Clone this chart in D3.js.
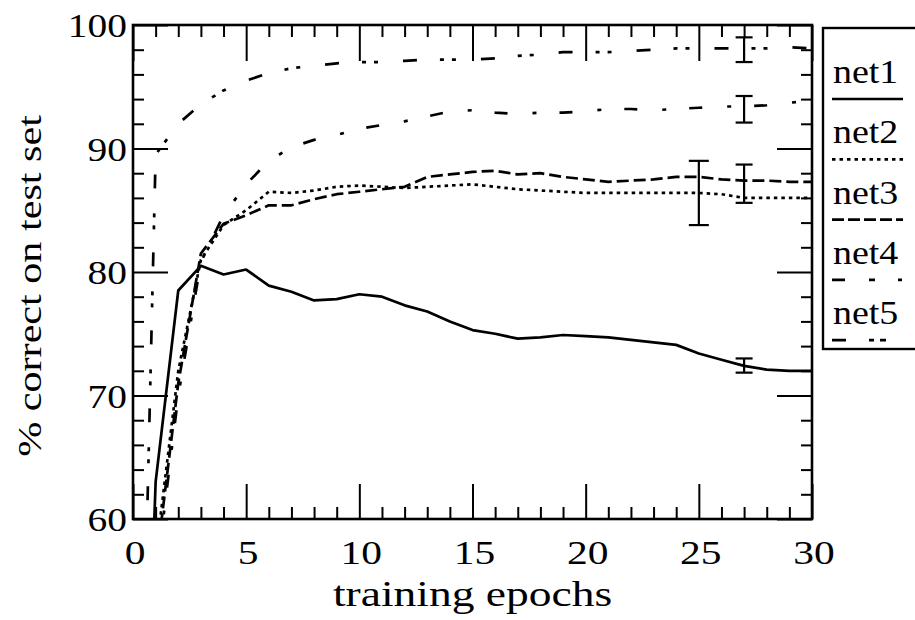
<!DOCTYPE html>
<html>
<head>
<meta charset="utf-8">
<script src="https://cdn.jsdelivr.net/npm/d3@7/dist/d3.min.js"></script>
<style>
body { margin: 0; background: #ffffff; }
svg { display: block; }
</style>
</head>
<body>
<script>
var epochs = [0, 1, 2, 3, 4, 5, 6, 7, 8, 9, 10, 11, 12, 13, 14, 15, 16, 17, 18, 19, 20, 21, 22, 23, 24, 25, 26, 27, 28, 29, 30];
var net1 = [10, 63, 78.5, 80.5, 79.8, 80.2, 78.9, 78.4, 77.7, 77.8, 78.2, 78.0, 77.3, 76.8, 76.0, 75.3, 75.0, 74.6, 74.7, 74.9, 74.8, 74.7, 74.5, 74.3, 74.1, 73.4, 72.9, 72.4, 72.1, 72.0, 72.0];
var net2 = [10, 57, 72, 81, 83.8, 85.0, 86.5, 86.4, 86.6, 86.9, 87.0, 86.9, 86.8, 86.9, 87.0, 87.1, 86.9, 86.7, 86.6, 86.5, 86.4, 86.4, 86.4, 86.4, 86.4, 86.4, 86.3, 86.0, 86.0, 86.0, 86.0];
var net3 = [10, 56, 71, 81.5, 83.9, 84.6, 85.4, 85.4, 85.9, 86.3, 86.5, 86.7, 86.9, 87.7, 87.9, 88.1, 88.2, 87.9, 88.0, 87.7, 87.5, 87.3, 87.4, 87.5, 87.7, 87.7, 87.5, 87.4, 87.4, 87.3, 87.3];
var net4 = [10, 55, 70, 80.8, 84.6, 87.1, 89.0, 90.1, 90.7, 91.1, 91.6, 91.9, 92.2, 92.6, 93.0, 93.1, 92.9, 92.8, 92.9, 92.9, 93.0, 93.2, 93.2, 93.1, 93.2, 93.3, 93.4, 93.4, 93.5, 93.7, 93.9];
var net5 = [11, 89.5, 92.0, 93.6, 94.7, 95.5, 96.1, 96.5, 96.7, 96.9, 97.0, 97.0, 97.1, 97.2, 97.2, 97.2, 97.3, 97.5, 97.6, 97.8, 97.8, 97.8, 97.9, 98.0, 98.1, 98.1, 98.1, 98.1, 98.1, 98.2, 98.1];
var seriesNames = ["net1", "net2", "net3", "net4", "net5"];
var errX = [25, 27, 27, 27, 27];
var errLo = [83.8, 71.85, 85.6, 92.1, 97.0];
var errHi = [89.0, 73.0, 88.7, 94.25, 99.0];
var xTicks = [0, 5, 10, 15, 20, 25, 30];
var yTicks = [60, 70, 80, 90, 100];

var FONT = "'Liberation Serif', Tinos, 'Times New Roman', Times, serif";

var svg = d3.select("body")
	.append("svg")
	.attr("width", 915)
	.attr("height", 620)
	.attr("font-family", FONT);

var pLeft = 133, pRight = 812, pTop = 25, pBottom = 519;
var x = d3.scaleLinear().domain([0, 30]).range([pLeft, pRight]);
var y = d3.scaleLinear().domain([60, 100]).range([pBottom, pTop]);

var xMinor = d3.range(0, 31).filter(function (v) { return v % 5 !== 0; });
var yMinor = d3.range(60, 101, 2).filter(function (v) { return v % 10 !== 0; });

svg.append("clipPath")
	.attr("id", "plotclip")
	.append("rect")
	.attr("x", pLeft)
	.attr("y", pTop)
	.attr("width", pRight - pLeft)
	.attr("height", pBottom - pTop);

function tickAxis(axis, pos, ticks, size) {
	var g = svg.append("g")
		.attr("transform", pos)
		.call(axis.tickValues(ticks).tickSizeInner(-size).tickSizeOuter(0).tickFormat(""));
	g.select(".domain").remove();
	g.selectAll(".tick line").attr("stroke", "#000").attr("stroke-width", 2);
	return g;
}

tickAxis(d3.axisBottom(x), "translate(0," + pBottom + ")", xTicks, 35);
tickAxis(d3.axisBottom(x), "translate(0," + pBottom + ")", xMinor, 12);
tickAxis(d3.axisTop(x), "translate(0," + pTop + ")", xTicks, 36);
tickAxis(d3.axisTop(x), "translate(0," + pTop + ")", xMinor, 12);
tickAxis(d3.axisLeft(y), "translate(" + pLeft + ",0)", yTicks, 35);
tickAxis(d3.axisLeft(y), "translate(" + pLeft + ",0)", yMinor, 11);
tickAxis(d3.axisRight(y), "translate(" + pRight + ",0)", yTicks, 35);
tickAxis(d3.axisRight(y), "translate(" + pRight + ",0)", yMinor, 11);

svg.append("rect")
	.attr("x", pLeft)
	.attr("y", pTop)
	.attr("width", pRight - pLeft)
	.attr("height", pBottom - pTop)
	.attr("fill", "none")
	.attr("stroke", "#000")
	.attr("stroke-width", 2.6);

// tick labels (scanned type is a bit wide, so stretch horizontally)
svg.selectAll(".xlab")
	.data(xTicks)
	.enter()
	.append("text")
	.attr("class", "xlab")
	.attr("text-anchor", "middle")
	.attr("font-size", 34)
	.attr("transform", function (d) { return "translate(" + (x(d) + 2) + ",564) scale(1.22,1)"; })
	.text(function (d) { return d; });

svg.selectAll(".ylab")
	.data(yTicks)
	.enter()
	.append("text")
	.attr("class", "ylab")
	.attr("text-anchor", "end")
	.attr("font-size", 34)
	.attr("transform", function (d) { return "translate(127," + (y(d) + 12) + ") scale(1.16,1)"; })
	.text(function (d) { return d; });

svg.append("text")
	.attr("text-anchor", "middle")
	.attr("font-size", 35)
	.attr("transform", "translate(" + ((pLeft + pRight) / 2) + ",606) scale(1.3,1)")
	.text("training epochs");

svg.append("text")
	.attr("text-anchor", "middle")
	.attr("font-size", 34)
	.attr("transform", "translate(41," + ((pTop + pBottom) / 2 + 14) + ") rotate(-90) scale(1.24,1)")
	.text("% correct on test set");

var dashes = ["none", "3.5,4", "12,5", "13,25,4,23", "14,23,4,8,4,25"];
var legendDashes = ["none", "3.5,4", "12,4", "13,24,6,23,4,40", "14,23,5,6,6,40"];
var allSeries = [net1, net2, net3, net4, net5];

var line = d3.line()
	.x(function (d, i) { return x(epochs[i]); })
	.y(function (d) { return y(d); });

var plot = svg.append("g").attr("clip-path", "url(#plotclip)");
allSeries.forEach(function (s, i) {
	plot.append("path")
		.datum(s)
		.attr("d", line)
		.attr("fill", "none")
		.attr("stroke", "#000")
		.attr("stroke-width", 2.7)
		.attr("stroke-dasharray", dashes[i])
		.attr("stroke-linejoin", "round");
});

// error bars
var caps = [20, 17, 17, 17, 17];
errX.forEach(function (v, i) {
	var g = svg.append("g").attr("stroke", "#000").attr("stroke-width", 2.2);
	g.append("line").attr("x1", x(v)).attr("x2", x(v)).attr("y1", y(errLo[i])).attr("y2", y(errHi[i]));
	g.append("line").attr("x1", x(v) - caps[i] / 2).attr("x2", x(v) + caps[i] / 2).attr("y1", y(errLo[i])).attr("y2", y(errLo[i]));
	g.append("line").attr("x1", x(v) - caps[i] / 2).attr("x2", x(v) + caps[i] / 2).attr("y1", y(errHi[i])).attr("y2", y(errHi[i]));
});

// legend
var legend = svg.append("g");
legend.append("rect")
	.attr("x", 823)
	.attr("y", 28)
	.attr("width", 200)
	.attr("height", 321)
	.attr("fill", "#fff")
	.attr("stroke", "#000")
	.attr("stroke-width", 2.4);
seriesNames.forEach(function (name, i) {
	var ly = 99 + i * 60.3;
	legend.append("text")
		.attr("font-size", 33)
		.attr("transform", "translate(833," + (ly - 16) + ") scale(1.15,1)")
		.text(name);
	legend.append("line")
		.attr("x1", 832)
		.attr("x2", 903)
		.attr("y1", ly)
		.attr("y2", ly)
		.attr("stroke", "#000")
		.attr("stroke-width", 2.7)
		.attr("stroke-dasharray", legendDashes[i]);
});
</script>
</body>
</html>
